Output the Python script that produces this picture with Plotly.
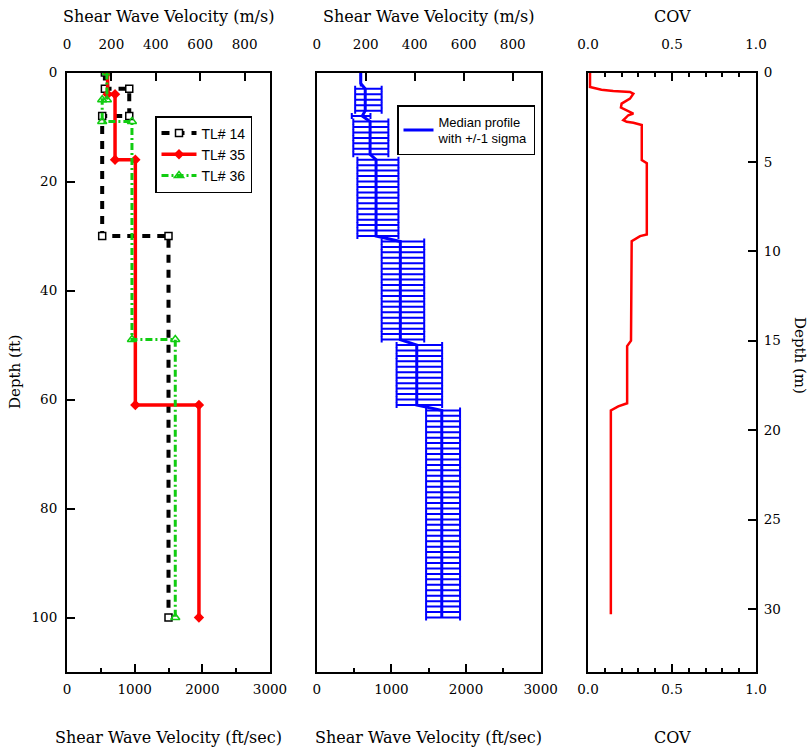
import plotly.graph_objects as go

# ---------------- data ----------------
# Panel 1: individual step profiles (velocity ft/s, depth ft)
tl14_vs = [560, 560, 920, 920, 520, 520, 1500, 1500]
tl14_depth = [0, 3, 3, 8, 8, 30, 30, 100]
tl35_vs = [600, 600, 710, 710, 1010, 1010, 1950, 1950]
tl35_depth = [0, 4, 4, 16, 16, 61, 61, 100]
tl36_vs = [590, 590, 520, 520, 960, 960, 1600, 1600]
tl36_depth = [0, 5, 5, 9, 9, 49, 49, 100]

# Panel 2: median profile with +/- 1 sigma, by layer (ft, ft/s)
layer_top = [0, 3, 8, 9, 16, 31, 50, 62]
layer_bot = [2, 7, 8, 15, 30, 49, 61, 100]
layer_median = [590, 650, 610, 715, 795, 1120, 1340, 1675]
layer_lower = [590, 515, 470, 490, 545, 870, 1070, 1465]
layer_upper = [590, 870, 720, 960, 1095, 1440, 1680, 1920]

# Panel 3: COV vs depth (m)
cov_depth = [0, 0.81, 0.96, 1.04, 1.09, 1.19, 1.46, 1.74, 1.96, 2.11, 2.3, 2.39,
             2.67, 2.76, 2.81, 2.94, 4.89, 5.07, 9.06, 9.15, 9.43, 15.0, 15.3,
             18.5, 18.67, 18.9, 30.3]
cov_vals = [0.012, 0.012, 0.08, 0.15, 0.25, 0.27, 0.25, 0.20, 0.196, 0.23, 0.27,
            0.24, 0.21, 0.23, 0.27, 0.32, 0.32, 0.35, 0.35, 0.31, 0.26, 0.256,
            0.233, 0.233, 0.18, 0.136, 0.136]

vel_ticks_ft = [0, 1000, 2000, 3000]
vel_minor_ft = [500, 1500, 2500]
vel_ticks_ms = [0, 200, 400, 600, 800]
depth_ticks_ft = [0, 20, 40, 60, 80, 100]
depth_ticks_m = [0, 5, 10, 15, 20, 25, 30]
cov_ticks = [0, 0.5, 1.0]
cov_ticktext = ["0.0", "0.5", "1.0"]

# expand layers into 1-ft samples
med_depth, med_vs, err_plus, err_minus = [], [], [], []
for t, b, m, lo, hi in zip(layer_top, layer_bot, layer_median, layer_lower, layer_upper):
    for d in range(t, b + 1):
        med_depth.append(d)
        med_vs.append(m)
        err_plus.append(hi - m)
        err_minus.append(m - lo)

FT_TO_M = 0.3048
W, H = 812, 747
P1 = [67 / W, 270 / W]
P2 = [316.7 / W, 540.7 / W]
P3 = [588 / W, 756 / W]
YD = [1 - 672 / H, 1 - 72.5 / H]
DEPTH_MAX = 110

fig = go.Figure()

fig.add_trace(go.Scatter(x=tl14_vs, y=tl14_depth, name="TL# 14", mode="lines+markers",
                         line=dict(color="black", width=4, dash="8px,7px"),
                         marker=dict(symbol="square", size=7, color="white",
                                     line=dict(color="black", width=1.5)),
                         xaxis="x", yaxis="y", legend="legend"))
fig.add_trace(go.Scatter(x=tl35_vs, y=tl35_depth, name="TL# 35", mode="lines+markers",
                         line=dict(color="#ff0000", width=3.5),
                         marker=dict(symbol="diamond", size=8, color="#ff0000"),
                         xaxis="x", yaxis="y", legend="legend"))
fig.add_trace(go.Scatter(x=tl36_vs, y=tl36_depth, name="TL# 36", mode="lines+markers",
                         line=dict(color="#11cc11", width=3, dash="7px,3px,2px,3px"),
                         marker=dict(symbol="triangle-up-open", size=8, color="#11cc11",
                                     line=dict(color="#11cc11", width=1.5)),
                         xaxis="x", yaxis="y", legend="legend"))

fig.add_trace(go.Scatter(x=med_vs, y=med_depth, name="Median profile<br>with +/-1 sigma",
                         mode="lines", line=dict(color="#0000ff", width=3),
                         error_x=dict(type="data", symmetric=False, array=err_plus,
                                      arrayminus=err_minus, color="#0000ff",
                                      thickness=2, width=3),
                         xaxis="x2", yaxis="y2", legend="legend2"))

fig.add_trace(go.Scatter(x=cov_vals, y=cov_depth, mode="lines", showlegend=False,
                         line=dict(color="#ff0000", width=2.5),
                         xaxis="x3", yaxis="y3"))

# invisible traces to activate the top axes
for xa, ya in (("x4", "y"), ("x5", "y2"), ("x6", "y3")):
    fig.add_trace(go.Scatter(x=[0], y=[0], mode="markers", marker=dict(opacity=0),
                             showlegend=False, hoverinfo="skip", xaxis=xa, yaxis=ya))

TF = dict(family="DejaVu Serif", size=13.5, color="black")
base = dict(showline=True, linecolor="black", linewidth=2, ticks="inside",
            tickcolor="black", tickwidth=2, ticklen=8, showgrid=False,
            zeroline=False, tickfont=TF, automargin=False)
minor_v = dict(tickvals=vel_minor_ft, ticks="inside", ticklen=4, tickcolor="black", tickwidth=2)
minor_c = dict(dtick=0.1, ticks="inside", ticklen=4, tickcolor="black", tickwidth=2)

fig.update_layout(
    width=W, height=H, autosize=False,
    margin=dict(l=0, r=0, t=0, b=0, autoexpand=False),
    paper_bgcolor="white", plot_bgcolor="white",
    xaxis=dict(base, domain=P1, anchor="y", range=[0, 3000], tickvals=vel_ticks_ft,
               minor=minor_v, mirror=True, ticklabelstandoff=4),
    xaxis4=dict(base, overlaying="x", anchor="y", side="top",
                range=[0, 3000 * FT_TO_M], tickvals=vel_ticks_ms, ticklabelstandoff=16),
    yaxis=dict(base, domain=YD, anchor="x", range=[DEPTH_MAX, 0], tickvals=depth_ticks_ft,
               mirror=True, ticklabelstandoff=5),
    xaxis2=dict(base, domain=P2, anchor="y2", range=[0, 3000], tickvals=vel_ticks_ft,
                minor=minor_v, mirror=True, ticklabelstandoff=4),
    xaxis5=dict(base, overlaying="x2", anchor="y2", side="top",
                range=[0, 3000 * FT_TO_M], tickvals=vel_ticks_ms, ticklabelstandoff=16),
    yaxis2=dict(base, domain=YD, anchor="x2", range=[DEPTH_MAX, 0], ticks="",
                showticklabels=False, mirror=True),
    xaxis3=dict(base, domain=P3, anchor="y3", range=[0, 1.0], tickvals=cov_ticks,
                ticktext=cov_ticktext, minor=minor_c, mirror=True, ticklabelstandoff=4),
    xaxis6=dict(base, overlaying="x3", anchor="y3", side="top", range=[0, 1.0],
                tickvals=cov_ticks, ticktext=cov_ticktext, minor=minor_c,
                ticklabelstandoff=16),
    yaxis3=dict(base, domain=YD, anchor="x3", side="right",
                range=[DEPTH_MAX * FT_TO_M, 0], tickvals=depth_ticks_m, mirror=True,
                ticklabelstandoff=3),
    legend=dict(x=155 / W, y=1 - 116 / H, xanchor="left", yanchor="top",
                bgcolor="white", bordercolor="black", borderwidth=1.5,
                font=dict(family="Liberation Sans", size=14, color="black"),
                tracegroupgap=0, itemwidth=35),
    legend2=dict(x=397 / W, y=1 - 105 / H, xanchor="left", yanchor="top",
                 bgcolor="white", bordercolor="black", borderwidth=1.5,
                 font=dict(family="Liberation Sans", size=13, color="black"),
                 itemwidth=30),
)

AF = dict(family="DejaVu Serif", size=16, color="black")
AF_D = dict(family="DejaVu Serif", size=15, color="black")
annots = [
    ("Shear Wave Velocity (m/s)", (P1[0] + P1[1]) / 2, 1 - 17 / H, 0, AF),
    ("Shear Wave Velocity (m/s)", (P2[0] + P2[1]) / 2, 1 - 17 / H, 0, AF),
    ("COV", (P3[0] + P3[1]) / 2, 1 - 17 / H, 0, AF),
    ("Shear Wave Velocity (ft/sec)", (P1[0] + P1[1]) / 2, 1 - 737 / H, 0, AF),
    ("Shear Wave Velocity (ft/sec)", (P2[0] + P2[1]) / 2, 1 - 737 / H, 0, AF),
    ("COV", (P3[0] + P3[1]) / 2, 1 - 737 / H, 0, AF),
    ("Depth (ft)", 15 / W, 1 - 372 / H, -90, AF_D),
    ("Depth (m)", 800 / W, 1 - 355 / H, 90, AF_D),
]
for txt, x, y, ang, f in annots:
    fig.add_annotation(text=txt, x=x, y=y, xref="paper", yref="paper",
                       xanchor="center", yanchor="middle", showarrow=False,
                       textangle=ang, font=f)

fig.write_html("out.html")
